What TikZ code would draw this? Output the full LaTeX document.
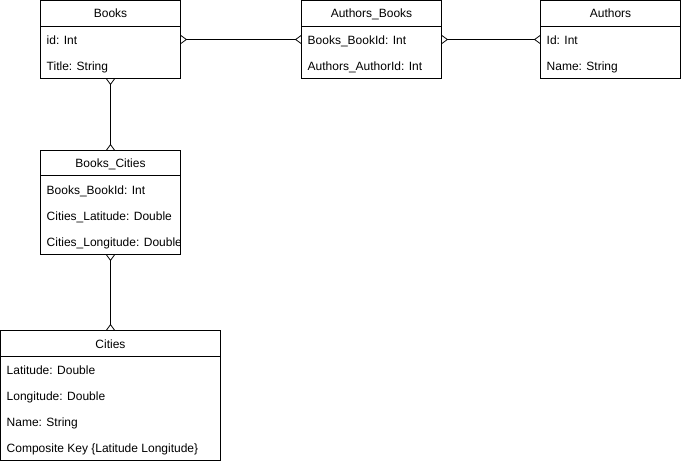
\documentclass[tikz,border=0pt]{standalone}
\usepackage{fontspec}
\setmainfont{Liberation Sans}
\usetikzlibrary{arrows.meta}
\tikzset{
  entity/.style={draw,line width=1pt,anchor=center,inner sep=0pt,outer sep=0pt},
  title/.style={anchor=base,inner sep=0pt},
  field/.style={anchor=base west,inner sep=0pt},
  foot/.tip={Straight Barb[reversed,length=5.5pt,width=8pt,line width=0.8pt]},
  rel/.style={line width=0.8pt,foot-foot},
}
\begin{document}
\begin{tikzpicture}[x=1pt,y=-1pt,font=\fontsize{12}{14}\selectfont]
        \useasboundingbox (-0.5,-0.5) rectangle (680.5,463.5);
        %% books
        \node[entity,minimum width=140pt,minimum height=78pt] (books) at (110,39) {};
        \draw[line width=1pt] ([yshift=-26pt]books.north west) -- ([yshift=-26pt]books.north east);
        \node[title] (booksname) at ([yshift=-17.3pt]books.north) {Books};
        \node[field] (booksid) at ([xshift=6pt,yshift=-44.3pt]books.north west) {id: Int};
        \node[field] (bookstitle) at ([xshift=6pt,yshift=-70.3pt]books.north west) {Title: String};
        %% authors_books
        \node[entity,minimum width=140pt,minimum height=78pt] (authorsbooks) at (371,39) {};
        \draw[line width=1pt] ([yshift=-26pt]authorsbooks.north west) -- ([yshift=-26pt]authorsbooks.north east);
        \node[title] (authorsbooksname) at ([yshift=-17.3pt]authorsbooks.north) {Authors\_Books};
        \node[field] (abbookid) at ([xshift=6pt,yshift=-44.3pt]authorsbooks.north west) {Books\_BookId: Int};
        \node[field] (abauthorid) at ([xshift=6pt,yshift=-70.3pt]authorsbooks.north west) {Authors\_AuthorId: Int};
        %% authors
        \node[entity,minimum width=140pt,minimum height=78pt] (authors) at (610,39) {};
        \draw[line width=1pt] ([yshift=-26pt]authors.north west) -- ([yshift=-26pt]authors.north east);
        \node[title] (authorsname) at ([yshift=-17.3pt]authors.north) {Authors};
        \node[field] (authorsid) at ([xshift=6pt,yshift=-44.3pt]authors.north west) {Id: Int};
        \node[field] (authorsnm) at ([xshift=6pt,yshift=-70.3pt]authors.north west) {Name: String};
        %% books_cities
        \node[entity,minimum width=140pt,minimum height=104pt] (bookscities) at (110,202) {};
        \draw[line width=1pt] ([yshift=-25pt]bookscities.north west) -- ([yshift=-25pt]bookscities.north east);
        \node[title] (bookscitiesname) at ([yshift=-17.3pt]bookscities.north) {Books\_Cities};
        \node[field] (bcbookid) at ([xshift=6pt,yshift=-43.8pt]bookscities.north west) {Books\_BookId: Int};
        \node[field] (bclat) at ([xshift=6pt,yshift=-69.8pt]bookscities.north west) {Cities\_Latitude: Double};
        \begin{scope}
          \clip (bookscities.north west) rectangle (bookscities.south east);
          \node[field] (bclong) at ([xshift=6pt,yshift=-95.8pt]bookscities.north west) {Cities\_Longitude: Double};
        \end{scope}
        %% cities
        \node[entity,minimum width=220pt,minimum height=130pt] (cities) at (110,395) {};
        \draw[line width=1pt] ([yshift=-26pt]cities.north west) -- ([yshift=-26pt]cities.north east);
        \node[title] (citiesname) at ([yshift=-17.8pt]cities.north) {Cities};
        \node[field] (citieslat) at ([xshift=6pt,yshift=-43.8pt]cities.north west) {Latitude: Double};
        \node[field] (citieslong) at ([xshift=6pt,yshift=-70.3pt]cities.north west) {Longitude: Double};
        \node[field] (citiesnm) at ([xshift=6pt,yshift=-96.3pt]cities.north west) {Name: String};
        \node[field] (citieskey) at ([xshift=6pt,yshift=-122.3pt]cities.north west) {Composite Key \{Latitude Longitude\}};
        %% relations
        \draw[rel] (books.east) -- (authorsbooks.west);
        \draw[rel] (authorsbooks.east) -- (authors.west);
        \draw[rel] (books.south) -- (bookscities.north);
        \draw[rel] (bookscities.south) -- (cities.north);
    \end{tikzpicture}
\end{document}
